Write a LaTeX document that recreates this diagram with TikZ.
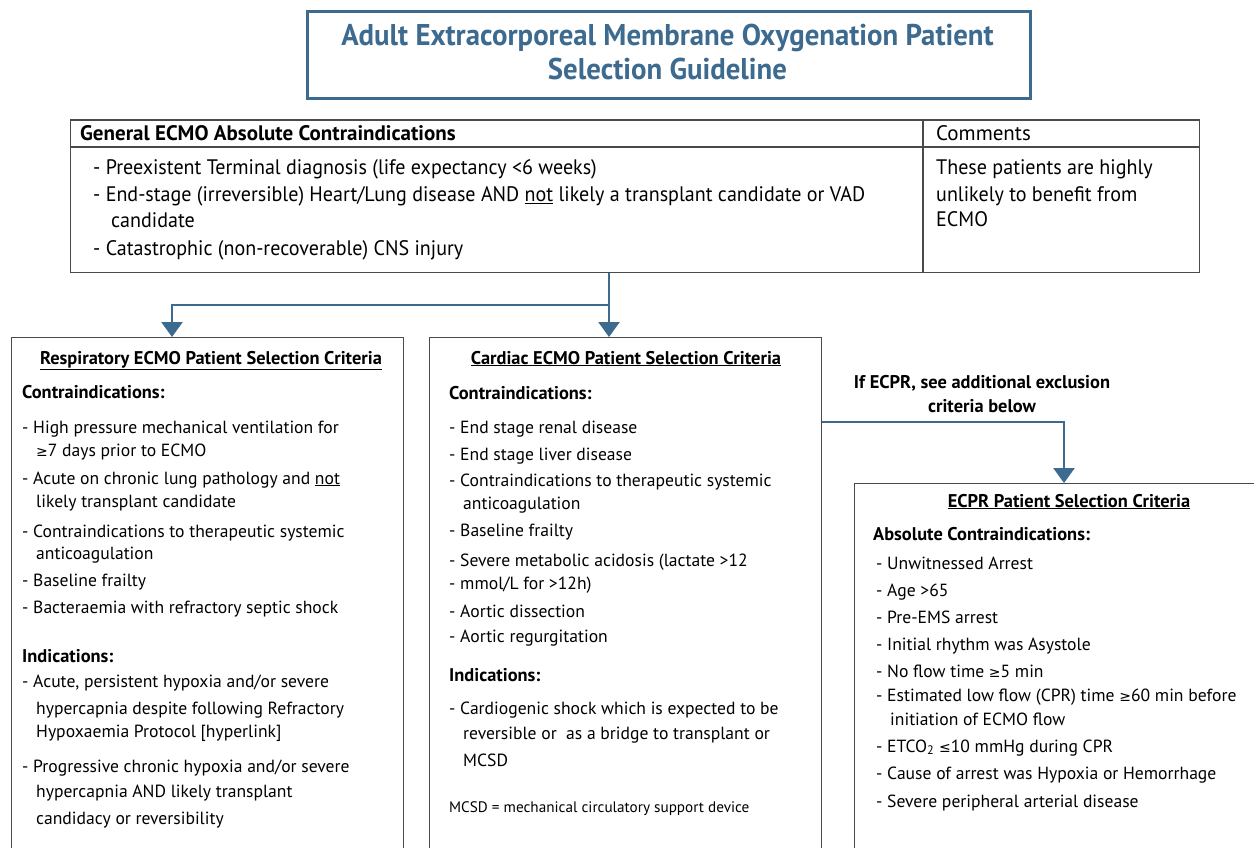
\documentclass[tikz,border=0pt]{standalone}
\usepackage{fontspec}
\setmainfont{PT Sans}
\newfontfamily\condf[FakeStretch=0.955]{PT Sans}
\newfontfamily\titlef[FakeStretch=0.96]{PT Sans}
\newfontfamily\symf{DejaVu Sans}
\usetikzlibrary{arrows.meta}
\definecolor{ecblue}{HTML}{3D6A8F}
\definecolor{bxgray}{HTML}{4A4A4A}
\newcommand\gesym{{\symf\fontsize{14}{14}\selectfont ≥}}
\newcommand\lesym{{\symf\fontsize{14}{14}\selectfont ≤}}
\newcommand\mkline[4]{\node[tx] (#1) at (#2,#3) {#4};}
\newcommand\mktop[4]{\node[toptx] (#1) at (#2,#3) {#4};}
\tikzset{
  bx/.style={draw=bxgray, line width=1.3pt, anchor=north west, inner sep=0pt, fill=white},
  conn/.style={draw=ecblue, line width=2.6pt},
  arr/.style={conn, -{Triangle[width=21pt,length=15pt]}},
  tx/.style={anchor=base west, inner sep=0pt, font=\fontsize{17.6}{20}\selectfont},
  hd/.style={tx, font=\fontsize{18.4}{20}\selectfont\bfseries},
  toptx/.style={anchor=base west, inner sep=0pt, font=\condf\fontsize{21}{24}\selectfont},
}
\begin{document}
\begin{tikzpicture}[x=1pt,y=-1pt]
\useasboundingbox (0,0) rectangle (1254,848);
\clip (0,0) rectangle (1254,848);
\fill[white] (0,0) rectangle (1254,848);

% title
\node[draw=ecblue, line width=3pt, minimum width=723pt, minimum height=87pt, anchor=north west] (title) at (306,10) {};
\node[font=\titlef\bfseries\fontsize{30}{34}\selectfont, text=ecblue, align=center, inner sep=0pt] (ttext) at (667.5,52) {Adult Extracorporeal Membrane Oxygenation Patient\\Selection Guideline};

% general table
\node[bx, minimum width=1129pt, minimum height=152pt] (gen) at (70,120) {};
\draw[bxgray, line width=2pt] (gen.north west) -- (gen.north east);
\draw[bxgray, line width=1.3pt] (70,147) -- (1199,147);
\draw[bxgray, line width=1.3pt] (923,120) -- (923,272);
\node[toptx, font=\fontsize{21}{24}\selectfont\bfseries] (gh) at (80,141) {General ECMO Absolute Contraindications};
\node[toptx, font=\fontsize{21}{24}\selectfont] (gc) at (936,141) {Comments};
\mktop{g1}{93}{175}{- Preexistent Terminal diagnosis (life expectancy <6 weeks)}
\mktop{g2}{93}{202}{- End-stage (irreversible) Heart/Lung disease AND \underline{not} likely a transplant candidate or VAD}
\mktop{g3}{111}{227}{candidate}
\mktop{g4}{93}{255}{- Catastrophic (non-recoverable) CNS injury}
\mktop{c1}{936}{175}{These patients are highly}
\mktop{c2}{936}{201}{unlikely to benefit from}
\mktop{c3}{936}{226}{ECMO}

% boxes
\node[bx, minimum width=392pt, minimum height=560pt] (resp) at (11,337) {};
\node[bx, minimum width=392pt, minimum height=560pt] (card) at (429,337) {};
\node[bx, minimum width=420pt, minimum height=420pt] (ecpr) at (854,483) {};

% connectors
\coordinate (j) at (609,305);
\draw[conn] (gen.south -| j) -- (j);
\draw[arr] (j) -| (resp.north -| 172,0);
\draw[arr] (j) -- (card.north -| j);
\coordinate (ej) at (1064,422);
\draw[arr] (card.east |- ej) -- (ej) -- (ecpr.north -| ej);
\node[font=\fontsize{18.4}{24}\selectfont\bfseries, align=center, inner sep=0pt] (elab) at (982,394) {If ECPR, see additional exclusion\\criteria below};

% respiratory
\node[hd, anchor=base] (rt) at (211,364) {\underline{Respiratory ECMO Patient Selection Criteria}};
\node[hd] (rc) at (22,398) {Contraindications:};
\mkline{r1}{22}{433}{- High pressure mechanical ventilation for}
\mkline{r2}{36}{456}{\gesym7 days prior to ECMO}
\mkline{r3}{22}{484}{- Acute on chronic lung pathology and \underline{not}}
\mkline{r4}{36}{507}{likely transplant candidate}
\mkline{r5}{22}{537}{- Contraindications to therapeutic systemic}
\mkline{r6}{36}{559}{anticoagulation}
\mkline{r7}{22}{586}{- Baseline frailty}
\mkline{r8}{22}{613}{- Bacteraemia with refractory septic shock}
\node[hd] (ri) at (22,662) {Indications:};
\mkline{r9}{22}{687}{- Acute, persistent hypoxia and/or severe}
\mkline{r10}{36}{714}{hypercapnia despite following Refractory}
\mkline{r11}{36}{737}{Hypoxaemia Protocol [hyperlink]}
\mkline{r12}{22}{772}{- Progressive chronic hypoxia and/or severe}
\mkline{r13}{36}{797}{hypercapnia AND likely transplant}
\mkline{r14}{36}{824}{candidacy or reversibility}

% cardiac
\node[hd, anchor=base] (ct) at (626,364) {\underline{Cardiac ECMO Patient Selection Criteria}};
\node[hd] (cc) at (449,399) {Contraindications:};
\mkline{k1}{449}{433}{- End stage renal disease}
\mkline{k2}{449}{460}{- End stage liver disease}
\mkline{k3}{449}{486}{- Contraindications to therapeutic systemic}
\mkline{k4}{463}{509}{anticoagulation}
\mkline{k5}{449}{536}{- Baseline frailty}
\mkline{k6}{449}{566}{- Severe metabolic acidosis (lactate >12}
\mkline{k7}{449}{589}{- mmol/L for >12h)}
\mkline{k8}{449}{617}{- Aortic dissection}
\mkline{k9}{449}{642}{- Aortic regurgitation}
\node[hd] (ci) at (449,681) {Indications:};
\mkline{k10}{449}{714}{- Cardiogenic shock which is expected to be}
\mkline{k11}{463}{739}{reversible or\ \ as a bridge to transplant or}
\mkline{k12}{463}{766}{MCSD}
\node[tx, font=\fontsize{15.2}{17}\selectfont] (k13) at (449,812) {MCSD = mechanical circulatory support device};

% ECPR
\node[hd, anchor=base] (et) at (1069,507) {\underline{ECPR Patient Selection Criteria}};
\node[hd] (ea) at (873,540) {Absolute Contraindications:};
\mkline{e1}{876}{569}{- Unwitnessed Arrest}
\mkline{e2}{876}{596}{- Age >65}
\mkline{e3}{876}{623}{- Pre-EMS arrest}
\mkline{e4}{876}{650}{- Initial rhythm was Asystole}
\mkline{e5}{876}{677}{- No flow time \gesym5 min}
\mkline{e6}{876}{701}{- Estimated low flow (CPR) time \gesym60 min before}
\mkline{e7}{890}{725}{initiation of ECMO flow}
\mkline{e8}{876}{752}{- ETCO\textsubscript{2} \lesym10 mmHg during CPR}
\mkline{e9}{876}{779}{- Cause of arrest was Hypoxia or Hemorrhage}
\mkline{e10}{876}{807}{- Severe peripheral arterial disease}
\end{tikzpicture}
\end{document}
